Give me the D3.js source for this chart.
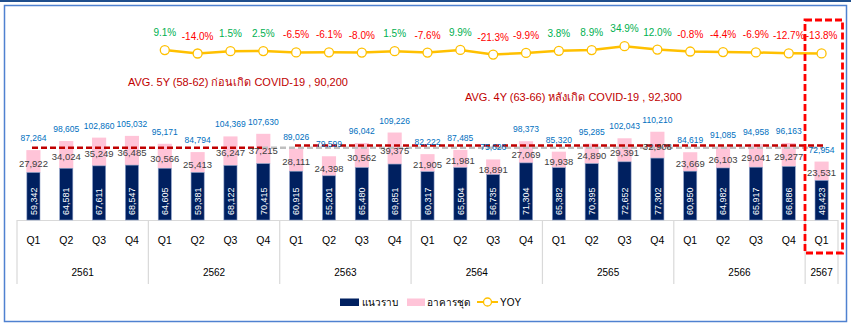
<!DOCTYPE html>
<html>
<head>
<meta charset="utf-8">
<script src="https://cdn.jsdelivr.net/npm/d3@7"></script>
<style>
  body { margin: 0; background: #fff; }
  text { font-family: 'Liberation Sans', Arial, 'Noto Sans', sans-serif; }
</style>
</head>
<body>
<div id="chart"></div>
<script>
// quarterly units by type, 2561 Q1 .. 2567 Q1
let years = ['2561', '2562', '2563', '2564', '2565', '2566', '2567'];
let quarters = ['Q1', 'Q2', 'Q3', 'Q4'];
let lowRise = [59342, 64581, 67611, 68547, 64605, 59381, 68122, 70415, 60915, 55201, 65480, 69851,
  60317, 65504, 56735, 71304, 65382, 70395, 72652, 77302, 60950, 64982, 65917, 66886, 49423];
let condo = [27922, 34024, 35249, 36485, 30566, 25413, 36247, 37215, 28111, 24398, 30562, 39375,
  21905, 21981, 18891, 27069, 19938, 24890, 29391, 32908, 23669, 26103, 29041, 29277, 23531];
let yoy = [null, null, null, null, 9.1, -14.0, 1.5, 2.5, -6.5, -6.1, -8.0, 1.5,
  -7.6, 9.9, -21.3, -9.9, 3.8, 8.9, 34.9, 12.0, -0.8, -4.4, -6.9, -12.7, -13.8];
let avgBefore = 90200, avgAfter = 92300;

let W = 851, H = 324;
let navy = '#002060', pink = '#ffc4d8', gold = '#ffc000';

let cats = [];
years.forEach((y, yi) => {
  let nq = yi == years.length - 1 ? 1 : 4;
  for (let q = 0; q < nq; q++) cats.push({ year: y, q: quarters[q] });
});
let rows = cats.map((c, i) => ({ i: i, year: c.year, q: c.q, low: lowRise[i], condo: condo[i], total: lowRise[i] + condo[i], yoy: yoy[i] }));

let svg = d3.select('#chart').append('svg')
  .attr('width', W).attr('height', H);

// frame
svg.append('rect').attr('x', 0).attr('y', 0).attr('width', W).attr('height', 2).attr('fill', '#1f4e8c');
svg.append('rect').attr('x', 4.5).attr('y', 5.5).attr('width', 842).attr('height', 316)
  .attr('fill', 'none').attr('stroke', '#4f81d0').attr('stroke-width', 1.5);

let x = d3.scaleBand()
  .domain(rows.map(d => d.i))
  .range([17, 838])
  .paddingInner(0.6)
  .paddingOuter(0.3);
let step = x.step();
let cx = i => x(i) + x.bandwidth() / 2;

let y = d3.scaleLinear().domain([0, 120000]).range([220, 123.9]);
let yY = d3.scaleLinear().domain([-30, 40]).range([55.9, 45.4]);

// category table below the bars
let axis = svg.append('g').attr('stroke', '#d9d9d9').attr('stroke-width', 1.2);
axis.append('line').attr('x1', 17).attr('x2', 838).attr('y1', 220.5).attr('y2', 220.5);
let bounds = [0];
years.forEach((yr, yi) => bounds.push(bounds[yi] + (yi == years.length - 1 ? 1 : 4)));
bounds.forEach(b => {
  let bx = 17 + b * step;
  axis.append('line').attr('x1', bx).attr('x2', bx).attr('y1', 220).attr('y2', 284);
});
svg.append('g').selectAll('text').data(rows).enter().append('text')
  .attr('x', d => cx(d.i)).attr('y', 244)
  .attr('text-anchor', 'middle').attr('font-size', 10.5).attr('fill', '#000')
  .text(d => d.q);
svg.append('g').selectAll('text').data(years).enter().append('text')
  .attr('x', (d, i) => 17 + (bounds[i] + bounds[i + 1]) / 2 * step).attr('y', 276)
  .attr('text-anchor', 'middle').attr('font-size', 10).attr('fill', '#000')
  .text(d => d);

// stacked bars
let bars = svg.append('g');
bars.selectAll('rect.condo').data(rows).enter().append('rect')
  .attr('class', 'condo')
  .attr('x', d => x(d.i) - 0.5).attr('width', x.bandwidth() + 1)
  .attr('y', d => y(d.total)).attr('height', d => y(d.low) - y(d.total))
  .attr('fill', pink);
bars.selectAll('rect.low').data(rows).enter().append('rect')
  .attr('class', 'low')
  .attr('x', d => x(d.i)).attr('width', x.bandwidth())
  .attr('y', d => y(d.low)).attr('height', d => y(0) - y(d.low))
  .attr('fill', navy).attr('stroke', '#8ea0c8').attr('stroke-width', 0.6);

// average lines
let x0 = 32, x1 = 823;
svg.append('line').attr('x1', 262).attr('x2', x1).attr('y1', y(avgBefore)).attr('y2', y(avgBefore))
  .attr('stroke', '#bfbfbf').attr('stroke-width', 2.5).attr('stroke-dasharray', '6,3');
svg.append('line').attr('x1', x0).attr('x2', 262).attr('y1', y(avgBefore)).attr('y2', y(avgBefore))
  .attr('stroke', '#c00000').attr('stroke-width', 2.5).attr('stroke-dasharray', '6,3');
svg.append('line').attr('x1', 295).attr('x2', x1).attr('y1', y(avgAfter) - 0.5).attr('y2', y(avgAfter) - 0.5)
  .attr('stroke', '#c00000').attr('stroke-width', 2.5).attr('stroke-dasharray', '6,3');

// value labels
let fmt = d3.format(',');
svg.append('g').selectAll('text').data(rows).enter().append('text')
  .attr('transform', d => 'translate(' + (cx(d.i) + 3.2) + ',' + (y(0) - 5) + ') rotate(-90)')
  .attr('font-size', 9).attr('fill', '#fff')
  .text(d => fmt(d.low));
svg.append('g').selectAll('text').data(rows).enter().append('text')
  .attr('x', d => cx(d.i)).attr('y', d => (y(d.total) + y(d.low)) / 2 + 5.5)
  .attr('text-anchor', 'middle').attr('font-size', 9.5).attr('fill', '#404040')
  .text(d => fmt(d.condo));
svg.append('g').selectAll('text').data(rows).enter().append('text')
  .attr('x', d => cx(d.i)).attr('y', d => y(d.total) - 9)
  .attr('text-anchor', 'middle').attr('font-size', 8.5).attr('fill', '#0070c0')
  .text(d => fmt(d.total));

// YOY line
let yoyRows = rows.filter(d => d.yoy != null);
svg.append('path').datum(yoyRows)
  .attr('fill', 'none').attr('stroke', gold).attr('stroke-width', 2.5)
  .attr('d', d3.line().x(d => cx(d.i)).y(d => yY(d.yoy)));
svg.append('g').selectAll('circle').data(yoyRows).enter().append('circle')
  .attr('cx', d => cx(d.i)).attr('cy', d => yY(d.yoy)).attr('r', 4.5)
  .attr('fill', '#fff').attr('stroke', gold).attr('stroke-width', 1.3);
svg.append('g').selectAll('text').data(yoyRows).enter().append('text')
  .attr('x', d => cx(d.i)).attr('y', d => yY(d.yoy) - 14)
  .attr('text-anchor', 'middle').attr('font-size', 10)
  .attr('fill', d => d.yoy >= 0 ? '#00b050' : '#ff0000')
  .text(d => d.yoy.toFixed(1) + '%');

// average captions
svg.append('text').attr('x', 128).attr('y', 86).attr('font-size', 11).attr('fill', '#c00000')
  .text('AVG. 5Y (58-62) ก่อนเกิด COVID-19 ,  ' + fmt(avgBefore));
svg.append('text').attr('x', 465).attr('y', 101).attr('font-size', 11).attr('fill', '#c00000')
  .text('AVG. 4Y (63-66) หลังเกิด COVID-19 ,  ' + fmt(avgAfter));

// highlight box around latest quarter
svg.append('rect').attr('x', 805).attr('y', 20).attr('width', 37.5).attr('height', 233)
  .attr('fill', 'none').attr('stroke', '#ff0000').attr('stroke-width', 2.8).attr('stroke-dasharray', '7,3');

// legend
let lg = svg.append('g').attr('font-size', 10).attr('fill', '#000');
lg.append('rect').attr('x', 340).attr('y', 298.5).attr('width', 19).attr('height', 7.5).attr('fill', navy);
lg.append('text').attr('x', 362).attr('y', 306).text('แนวราบ');
lg.append('rect').attr('x', 407).attr('y', 298.5).attr('width', 18).attr('height', 7.5).attr('fill', pink);
lg.append('text').attr('x', 427).attr('y', 306).text('อาคารชุด');
lg.append('line').attr('x1', 477).attr('x2', 498).attr('y1', 302).attr('y2', 302).attr('stroke', gold).attr('stroke-width', 2);
lg.append('circle').attr('cx', 487.5).attr('cy', 302).attr('r', 4).attr('fill', '#fff').attr('stroke', gold).attr('stroke-width', 1.3);
lg.append('text').attr('x', 500).attr('y', 306).text('YOY');
</script>
</body>
</html>
